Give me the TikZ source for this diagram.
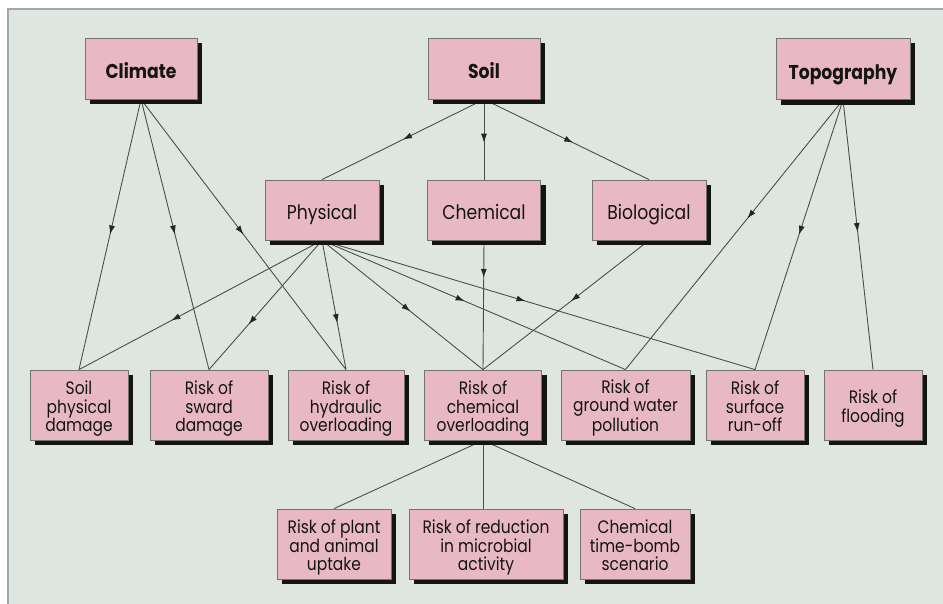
\documentclass[tikz,border=0pt]{standalone}
\usepackage{fontspec}
\setmainfont{Poppins}[FakeStretch=0.86]
\usetikzlibrary{decorations.markings,arrows.meta,calc}
\definecolor{panel}{HTML}{DFE6DF}
\definecolor{boxpink}{HTML}{E8B9C4}
\definecolor{edgecol}{HTML}{4A4F4A}
\pgfdeclarelayer{back}
\pgfdeclarelayer{bg}
\pgfdeclarelayer{shade}
\pgfsetlayers{back,bg,shade,main}
\tikzset{
 box/.style={draw=black!55, line width=0.8pt, fill=boxpink, inner sep=0pt, align=center, text=black!92},
 topbox/.style={box, font=\fontsize{20}{20}\selectfont\bfseries, minimum height=61pt, text height=21pt, text depth=0pt},
 midbox/.style={box, font=\fontsize{20}{20}\selectfont, minimum height=60pt, text height=20pt, text depth=0pt},
 lowbox/.style={box, font=\fontsize{18}{18.5}\selectfont, minimum height=70pt, text height=53pt, text depth=0pt},
 lowboxtwo/.style={box, font=\fontsize{18}{18.5}\selectfont, minimum height=70pt, text height=34pt, text depth=0pt},
 shadowfill/.style={fill=black!92},
 link/.style={draw=edgecol, line width=0.9pt},
 midarrow/.style={postaction={decorate}, decoration={markings, mark=at position #1 with {\arrow[black!85]{Latex[length=9pt,width=6pt]}}}},
}
\begin{document}
\begin{tikzpicture}[x=1pt,y=-1pt]
\useasboundingbox (0,0) rectangle (943,604);
% top row
\node[topbox, minimum width=112pt] (climate) at (141,68.5) {Climate};
\node[topbox, minimum width=112pt] (soil) at (484,68.5) {Soil};
\node[topbox, minimum width=134pt] (topo) at (843,69) {Topography};
% middle row
\node[midbox, minimum width=114pt] (phys) at (322,210) {Physical};
\node[midbox, minimum width=113pt] (chem) at (484,210) {Chemical};
\node[midbox, minimum width=114pt] (bio) at (649,210) {Biological};
% risk row
\node[lowbox, minimum width=98pt] (spd) at (79,405) {Soil\\physical\\damage};
\node[lowbox, minimum width=118pt] (sward) at (209,405) {Risk of\\sward\\damage};
\node[lowbox, minimum width=116pt] (hydro) at (346,405) {Risk of\\hydraulic\\overloading};
\node[lowbox, minimum width=117pt] (chemover) at (483,405) {Risk of\\chemical\\overloading};
\node[lowbox, minimum width=129pt] (ground) at (625.5,405) {Risk of\\ground water\\pollution};
\node[lowbox, minimum width=98pt] (runoff) at (755,405) {Risk of\\surface\\run-off};
\node[lowboxtwo, minimum width=98pt] (flood) at (873,405) {Risk of\\flooding};
% bottom row
\node[lowbox, minimum width=114pt] (plant) at (334,544) {Risk of plant\\and animal\\uptake};
\node[lowbox, minimum width=154pt] (micro) at (486,544) {Risk of reduction\\in microbial\\activity};
\node[lowbox, minimum width=110pt] (bomb) at (635,544) {Chemical\\time-bomb\\scenario};

\begin{pgfonlayer}{back}
\fill[panel] (8,9) rectangle (943,604);
\draw[black!35, line width=1.5pt] (8,604) -- (8,9) -- (943,9);
\end{pgfonlayer}

\begin{pgfonlayer}{shade}
\foreach \n in {climate,soil,topo,phys,chem,bio,spd,sward,hydro,chemover,ground,runoff,flood,plant,micro,bomb}
  \fill[shadowfill] ($(\n.south west)+(5,5)$) rectangle ($(\n.north east)+(5,5)$);
\end{pgfonlayer}

\begin{pgfonlayer}{bg}
% climate
\draw[link, midarrow=0.5] (climate.south) -- (spd.north);
\draw[link, midarrow=0.5] (climate.south) -- (sward.north);
\draw[link, midarrow=0.5] (climate.south) -- (hydro.north);
% soil
\draw[link, midarrow=0.5] (soil.south) -- (phys.north);
\draw[link, midarrow=0.54] (soil.south) -- (chem.north);
\draw[link, midarrow=0.54] (soil.south) -- (bio.north);
% physical
\draw[link, midarrow=0.62] (phys.south) -- (spd.north);
\draw[link, midarrow=0.65] (phys.south) -- (sward.north);
\draw[link, midarrow=0.64] (phys.south) -- (hydro.north);
\draw[link, midarrow=0.55] (phys.south) -- (chemover.north);
\draw[link, midarrow=0.47] (phys.south) -- (ground.north);
\draw[link, midarrow=0.47] (phys.south) -- (runoff.north);
% chemical, biological
\draw[link, midarrow=0.29] (chem.south) -- (chemover.north);
\draw[link, midarrow=0.47] (bio.south) -- (chemover.north);
% topography
\draw[link, midarrow=0.44] (topo.south) -- (ground.north);
\draw[link, midarrow=0.5] (topo.south) -- (runoff.north);
\draw[link, midarrow=0.49] (topo.south) -- (flood.north);
% chemical overloading consequences
\draw[link] (chemover.south) -- (plant.north);
\draw[link] (chemover.south) -- (chemover.south |- micro.north);
\draw[link] (chemover.south) -- (bomb.north);
\end{pgfonlayer}
\end{tikzpicture}
\end{document}
